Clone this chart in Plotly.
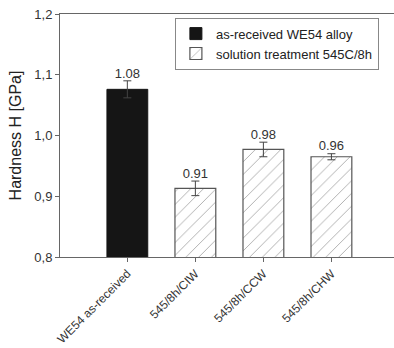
import plotly.graph_objects as go

categories = ["WE54 as-received", "545/8h/CIW", "545/8h/CCW", "545/8h/CHW"]
values = [1.076, 0.913, 0.977, 0.965]
errors = [0.014, 0.012, 0.012, 0.005]
labels = ["1.08", "0.91", "0.98", "0.96"]
series_names = ["as-received WE54 alloy", "solution treatment 545C/8h"]
ytick_vals = [0.8, 0.9, 1.0, 1.1, 1.2]
ytick_text = ["0,8", "0,9", "1,0", "1,1", "1,2"]

x_idx = list(range(len(categories)))
fig = go.Figure()
fig.add_trace(go.Bar(
    x=x_idx[:1], y=values[:1], width=0.6, name=series_names[0],
    marker=dict(color="#151515", line=dict(color="#151515", width=1)),
    error_y=dict(type="data", array=errors[:1], color="#444", thickness=1, width=4),
))
fig.add_trace(go.Bar(
    x=x_idx[1:], y=values[1:], width=0.6, name=series_names[1],
    marker=dict(color="white", line=dict(color="#555", width=1.2),
                pattern=dict(shape="/", fgcolor="#555", bgcolor="white", size=9, solidity=0.1)),
    error_y=dict(type="data", array=errors[1:], color="#444", thickness=1, width=4),
))
fig.add_trace(go.Scatter(
    x=x_idx, y=[v + e for v, e in zip(values, errors)], mode="text", text=labels,
    textposition="top center", textfont=dict(size=13, color="#333"), showlegend=False,
    hoverinfo="skip",
))
fig.update_layout(
    width=394, height=348, margin=dict(l=60, r=0, t=14, b=91),
    plot_bgcolor="white", paper_bgcolor="white",
    font=dict(family="Liberation Sans, Arial", color="#333", size=13),
    barmode="overlay",
    legend=dict(x=0.344, y=0.985, xanchor="left", yanchor="top", bordercolor="#888",
                borderwidth=1, bgcolor="white", font=dict(size=13, color="#222"),
                tracegroupgap=0, itemwidth=30),
    showlegend=True,
)
fig.update_xaxes(
    range=[-0.99, 3.92], tickvals=x_idx, ticktext=categories, tickangle=-45,
    showline=True, linecolor="#666", linewidth=1, mirror=True, automargin=False,
    ticks="outside", ticklen=4, tickcolor="#666", showgrid=False,
    tickfont=dict(size=12, color="#333"),
)
fig.update_yaxes(
    range=[0.8, 1.2], tickvals=ytick_vals, ticktext=ytick_text, automargin=False,
    showline=True, linecolor="#666", linewidth=1, mirror=False,
    ticks="outside", ticklen=4, tickcolor="#666", showgrid=False, zeroline=False,
    tickfont=dict(size=13, color="#333"),
    title=dict(text="Hardness H [GPa]", font=dict(size=16, color="#222"), standoff=8),
)
fig.write_html("out.html")
